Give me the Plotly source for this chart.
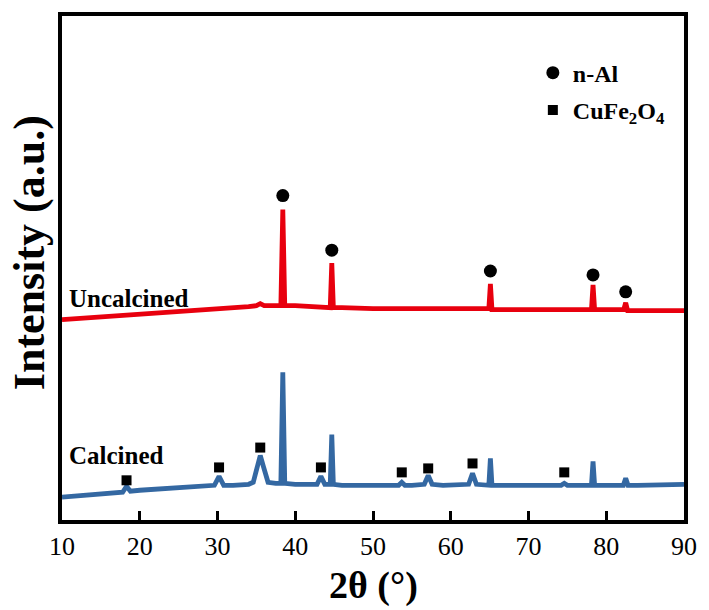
import plotly.graph_objects as go

# ---- data (2θ in degrees, intensity in arbitrary units) ----
unc_x = [10, 12, 14, 16, 18, 20, 22, 24, 26, 28, 30, 32, 34, 35, 35.5, 36, 37, 38.15, 38.4, 38.65,
         40, 42, 44.5, 44.7, 44.9, 46, 48, 50, 52, 54, 56, 58, 60, 62, 64.9, 65.1, 65.3, 67, 70,
         72, 74, 76, 78.1, 78.3, 78.5, 80, 82.25, 82.5, 82.75, 84, 86, 88, 90]
unc_y = [202, 203, 204, 205, 206, 207, 208, 209, 210, 211, 212, 213, 215, 216, 218, 216, 216, 216, 313, 216,
         216, 215, 214, 259, 214, 214, 213, 213, 213, 213, 213, 213, 213, 213, 213, 238, 212, 212, 212,
         212, 212, 212, 212, 237, 212, 212, 212, 219, 211, 211, 211, 211, 211]

cal_x = [10, 12, 14, 16, 17.8, 18.3, 18.8, 20, 22, 24, 26, 28, 29.6, 30.2, 30.8, 32, 34, 34.6, 35.1, 35.5,
         35.9, 36.5, 37.5, 38.15, 38.4, 38.65, 40, 42, 42.8, 43.3, 43.8, 44.5, 44.7, 44.9, 46, 48, 50, 52,
         53.3, 53.7, 54.1, 55, 56.6, 57.1, 57.6, 59, 61, 62.3, 62.8, 63.3, 64.9, 65.1, 65.3, 67, 70, 72,
         74.2, 74.6, 75, 76, 78.1, 78.3, 78.5, 80, 82.2, 82.5, 82.8, 84, 86, 88, 90]
cal_y = [23, 24, 25, 27, 28, 34, 29, 30, 31, 32, 33, 34, 35, 44, 35, 35, 36, 38, 55, 65,
         54, 38, 37, 37, 149, 37, 36, 36, 36, 44, 36, 36, 86, 36, 35, 35, 35, 35,
         35, 38, 35, 35, 36, 45, 36, 35, 35, 36, 47, 36, 35, 62, 35, 35, 35, 35,
         35, 37, 35, 35, 35, 59, 35, 35, 35, 42, 35, 35, 35, 36, 36]

al_x = [38.4, 44.7, 65.1, 78.3, 82.5]
al_y = [327, 272, 251, 247, 230]

cfo_x = [18.3, 30.2, 35.5, 43.3, 53.7, 57.1, 62.8, 74.6]
cfo_y = [40, 53, 73, 53, 48, 52, 57, 48]

x_ticks = [10, 20, 30, 40, 50, 60, 70, 80, 90]
sample_labels = ["Uncalcined", "Calcined"]
legend_names = ["n-Al", "CuFe<sub>2</sub>O<sub>4</sub>"]

RED = "#e8000e"
BLUE = "#3468a2"
SERIF = "Liberation Serif"

fig = go.Figure()
fig.add_trace(go.Scatter(x=unc_x, y=unc_y, mode="lines", line=dict(color=RED, width=4.8),
                         showlegend=False, hoverinfo="skip"))
fig.add_trace(go.Scatter(x=cal_x, y=cal_y, mode="lines", line=dict(color=BLUE, width=4.8),
                         showlegend=False, hoverinfo="skip"))
fig.add_trace(go.Scatter(x=al_x, y=al_y, mode="markers", name=legend_names[0], legendgroup="a",
                         marker=dict(symbol="circle", size=13, color="black")))
fig.add_trace(go.Scatter(x=cfo_x, y=cfo_y, mode="markers", name=legend_names[1], legendgroup="b",
                         marker=dict(symbol="square", size=10, color="black")))

fig.update_layout(
    width=709, height=610,
    margin=dict(l=62, r=19, t=12, b=90),
    paper_bgcolor="white", plot_bgcolor="white",
    font=dict(family=SERIF, color="black"),
    showlegend=True,
    legend=dict(x=0.757, y=0.85, xanchor="left", yanchor="middle",
                font=dict(family=SERIF, size=24, weight="bold"),
                bgcolor="rgba(0,0,0,0)", tracegroupgap=3, traceorder="grouped",
                itemwidth=30),
    xaxis=dict(range=[10, 90], tickvals=x_ticks, ticktext=[str(t) for t in x_ticks],
               ticks="inside", ticklen=9, tickwidth=3, tickcolor="black",
               showline=True, linewidth=4, linecolor="black", mirror=True,
               showgrid=False, zeroline=False,
               tickfont=dict(family=SERIF, size=26, color="black")),
    yaxis=dict(range=[0, 508], showticklabels=False, ticks="",
               showline=True, linewidth=4, linecolor="black", mirror=True,
               showgrid=False, zeroline=False),
    annotations=[
        dict(text="2θ (°)", xref="paper", yref="paper", x=0.5, y=-0.13,
             xanchor="center", yanchor="middle", showarrow=False,
             font=dict(family=SERIF, size=38, weight="bold")),
        dict(text="Intensity (a.u.)", xref="paper", yref="paper", x=-0.051, y=0.53,
             xanchor="center", yanchor="middle", textangle=-90, showarrow=False,
             font=dict(family=SERIF, size=44, weight="bold")),
        dict(text=sample_labels[0], xref="paper", yref="paper", x=0.008, y=0.439,
             xanchor="left", yanchor="middle", showarrow=False,
             font=dict(family=SERIF, size=25, weight="bold")),
        dict(text=sample_labels[1], xref="paper", yref="paper", x=0.008, y=0.128,
             xanchor="left", yanchor="middle", showarrow=False,
             font=dict(family=SERIF, size=25, weight="bold")),
    ],
)

fig.write_html("out.html")
